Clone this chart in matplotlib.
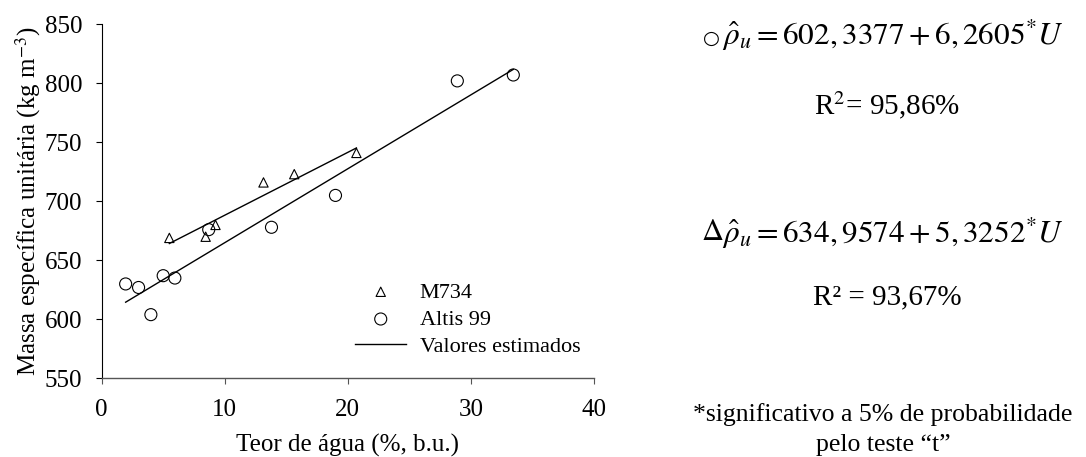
import matplotlib
matplotlib.use("Agg")
import matplotlib.pyplot as plt
import numpy as np

plt.rcParams['font.family'] = ['Liberation Serif', 'DejaVu Serif']
plt.rcParams['mathtext.fontset'] = 'stix'

# Data
m734_x = [5.5, 8.45, 9.25, 13.15, 15.65, 20.7]
m734_y = [669, 670, 680, 716, 723, 741]
altis_x = [1.95, 3.0, 4.0, 5.0, 5.95, 8.7, 13.8, 19.0, 28.9, 33.45]
altis_y = [630, 627, 604, 637, 635, 676, 678, 705, 802, 807]
m734_coef = (634.9574, 5.3252)
altis_coef = (602.3377, 6.2605)
xticks = [0, 10, 20, 30, 40]
yticks = [550, 600, 650, 700, 750, 800, 850]

W, H = 1086, 457
fig = plt.figure(figsize=(W / 100, H / 100), dpi=100)
ax = fig.add_axes([0.0936, 0.172, 0.4533, 0.775])

ax.scatter(m734_x, m734_y, marker='^', s=45, facecolors='none', edgecolors='black', linewidths=0.8, label='M734', zorder=3)
ax.scatter(altis_x, altis_y, marker='o', s=75, facecolors='none', edgecolors='black', linewidths=0.8, label='Altis 99', zorder=3)

xm = np.array([min(m734_x), max(m734_x)])
ax.plot(xm, m734_coef[0] + m734_coef[1] * xm, color='black', lw=1.0, label='Valores estimados')
xa = np.array([min(altis_x), max(altis_x)])
ax.plot(xa, altis_coef[0] + altis_coef[1] * xa, color='black', lw=1.0)

ax.set_xlim(0, 40)
ax.set_ylim(550, 850)
ax.set_xticks(xticks)
ax.set_yticks(yticks)
ax.spines['top'].set_visible(False)
ax.spines['right'].set_visible(False)
ax.spines['left'].set_linewidth(0.8)
ax.spines['bottom'].set_color('#555555')
ax.spines['bottom'].set_linewidth(1.0)
ax.tick_params(direction='out', length=4, width=0.8, labelsize=18)
ax.tick_params(axis='y', pad=10)
ax.tick_params(axis='x', pad=11, color='#555555')
ax.set_xlabel('Teor de água (%, b.u.)', fontsize=18, labelpad=9)
ax.set_ylabel('Massa específica unitária (kg m$^{-3}$)', fontsize=18, labelpad=1)

ax.legend(loc='upper left', bbox_to_anchor=(0.515, 0.272), frameon=False, fontsize=16,
          handlelength=2.3, handletextpad=0.6, labelspacing=0.3, borderpad=0.0, borderaxespad=0.0)

fs = 22.5
fig.text(711 / W, 1 - 38 / H, '○', fontsize=14, family='DejaVu Sans', ha='center', va='center')
fig.text(1064 / W, 1 - 35 / H, r'$\hat{\rho}_u = 602,3377 + 6,2605^{*}U$', fontsize=fs, ha='right', va='center')
fig.text(0.817, 0.77, r'R$^2$= 95,86%', fontsize=21, ha='center', va='center')
fig.text(712 / W, 1 - 240 / H, r'$\Delta$', fontsize=22, ha='center', va='baseline')
fig.text(1064 / W, 1 - 233 / H, r'$\hat{\rho}_u = 634,9574 + 5,3252^{*}U$', fontsize=fs, ha='right', va='center')
fig.text(0.817, 0.35, 'R² = 93,67%', fontsize=21, ha='center', va='center')
fig.text(0.813, 0.06, '*significativo a 5% de probabilidade\npelo teste “t”', fontsize=18.5, ha='center', va='center', linespacing=1.5)

fig.savefig('out.png', dpi=100)
